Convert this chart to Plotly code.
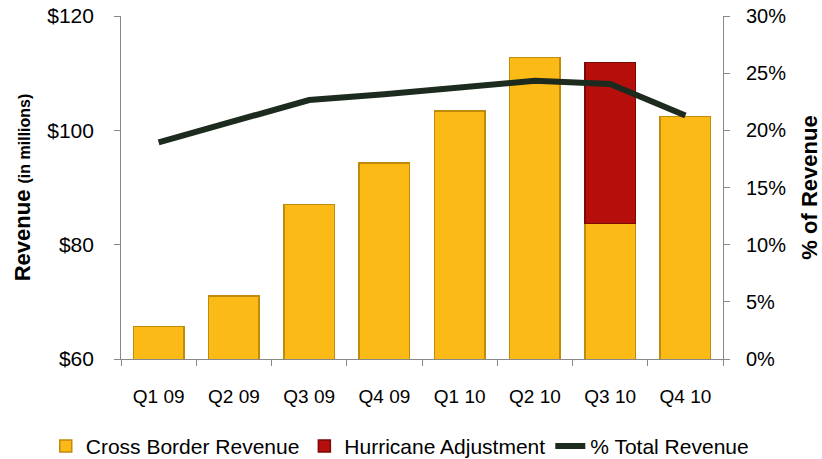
import plotly.graph_objects as go

quarters = ["Q1 09", "Q2 09", "Q3 09", "Q4 09", "Q1 10", "Q2 10", "Q3 10", "Q4 10"]
cross_border = [65.7, 71.0, 87.0, 94.3, 103.4, 112.7, 83.7, 102.4]
hurricane = [None, None, None, None, None, None, 28.2, None]
pct_total = [0.1895, 0.208, 0.2265, 0.2315, 0.2376, 0.2434, 0.2405, 0.213]

FONT = "Liberation Sans, Arial, sans-serif"

fig = go.Figure()
fig.add_trace(go.Bar(
    x=quarters, y=cross_border, name="Cross Border Revenue",
    marker=dict(color="#FBBA16", line=dict(color="#C08A0A", width=1.5)),
))
fig.add_trace(go.Bar(
    x=quarters, y=hurricane, name="Hurricane Adjustment",
    marker=dict(color="#B50E0B", line=dict(color="#7A0A08", width=1.5)),
))
fig.add_trace(go.Scatter(
    x=quarters, y=pct_total, name="% Total Revenue", yaxis="y2",
    mode="lines", line=dict(color="#1C2B1E", width=6),
))

fig.update_layout(
    width=822, height=459,
    margin=dict(l=121, r=99, t=16, b=100, autoexpand=False),
    barmode="stack", bargap=0.33,
    plot_bgcolor="white", paper_bgcolor="white",
    font=dict(family=FONT, size=18, color="black"),
    showlegend=True,
    legend=dict(orientation="h", x=-0.125, xanchor="left",
                y=-0.195, yanchor="top",
                font=dict(size=21), traceorder="normal", itemwidth=30),
    xaxis=dict(
        showline=True, linecolor="#888888", linewidth=1, automargin=False,
        ticks="outside", tickcolor="#888888", ticklen=6, tickson="boundaries",
        tickfont=dict(size=19), showgrid=False, ticklabelstandoff=20,
    ),
    yaxis=dict(
        range=[60, 120], dtick=20, tickprefix="$", ticksuffix="\u00a0\u00a0\u2009",
        automargin=False,
        showline=True, linecolor="#888888", linewidth=1,
        ticks="outside", tickcolor="#888888", ticklen=6,
        showgrid=False, zeroline=False, tickfont=dict(size=21),
        title=dict(text="<b>Revenue</b> <b><span style='font-size:16px'>(in millions)</span></b>",
                   font=dict(size=22), standoff=10),
    ),
    yaxis2=dict(
        overlaying="y", side="right", range=[0, 0.30], dtick=0.05, tickformat=".0%",
        automargin=False,
        showline=True, linecolor="#888888", linewidth=1,
        ticks="outside", tickcolor="#888888", ticklen=6,
        showgrid=False, zeroline=False, tickfont=dict(size=20),
        ticklabelstandoff=12,
        title=dict(text="<b>% of Revenue</b>", font=dict(size=22), standoff=16),
    ),
)

fig.write_html("out.html", config={"displayModeBar": False},
               post_script="document.body.style.margin='0';")
